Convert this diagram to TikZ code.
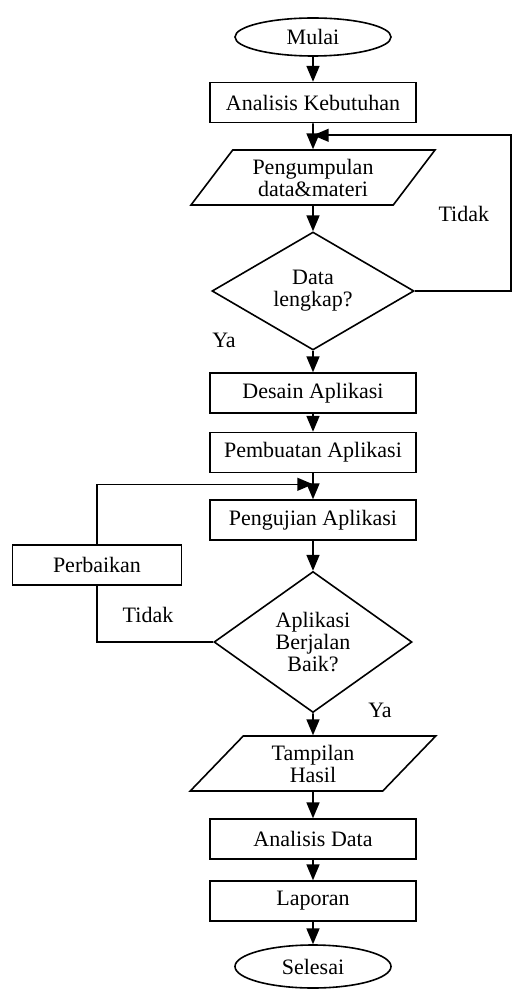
\documentclass[tikz,border=0pt]{standalone}
\usepackage{fontspec}
\setmainfont{Liberation Serif}
\usepackage{tikz}
\usetikzlibrary{shapes,arrows}
\usetikzlibrary{positioning}
\tikzstyle{arrow} = [line width=0.8pt,->,>=triangle 45]
\tikzstyle{line} = [line width=0.8pt]
\tikzstyle{proses} = [
    rectangle, minimum width=103pt, minimum height=20pt, text centered,
    inner sep=1pt, draw=black, line width=0.8pt, font=\fontsize{11}{11}\selectfont]
\tikzstyle{terminal} = [
    ellipse, minimum width=78pt, minimum height=19pt, inner sep=0pt,
    draw=black, line width=0.8pt, font=\fontsize{11}{11}\selectfont]
\tikzstyle{io} = [
    trapezium, trapezium left angle=50, trapezium right angle=130,
    trapezium stretches=true, minimum width=123pt, minimum height=27.5pt,
    inner sep=0pt, align=center, draw=black, line width=0.8pt,
    font=\fontsize{11}{11}\selectfont]
\tikzstyle{keputusan} = [
    diamond, aspect=1.7, minimum width=101pt, minimum height=59pt, inner sep=0pt,
    align=center, draw=black, line width=0.8pt, font=\fontsize{11}{11}\selectfont]
\tikzstyle{ket} = [inner sep=0pt, font=\fontsize{11}{11}\selectfont]

\begin{document}
\begin{tikzpicture}
\useasboundingbox (-156.5pt,18.5pt) rectangle (99.5pt,-476pt);

\node (mulai) [terminal] {Mulai};
\node (kebutuhan) [proses, below of=mulai, node distance=32.75pt] {Analisis Kebutuhan};
\node (kumpul) [io, below of=kebutuhan, node distance=37.5pt] {Pengumpulan\\data\&materi};
\node (lengkap) [keputusan, below of=kumpul, node distance=56.75pt] {Data\\lengkap?};
\node (desain) [proses, below of=lengkap, node distance=51pt] {Desain Aplikasi};
\node (pembuatan) [proses, below of=desain, node distance=29.75pt] {Pembuatan Aplikasi};
\node (pengujian) [proses, below of=pembuatan, node distance=33.75pt] {Pengujian Aplikasi};
\node (baik) [keputusan, below of=pengujian, node distance=61pt,
    minimum width=99pt, minimum height=70.5pt] {Aplikasi\\Berjalan\\Baik?};
\node (perbaikan) [proses, left of=pengujian, node distance=108pt, yshift=-22.5pt,
    minimum width=84.5pt] {Perbaikan};
\node (tampil) [io, below of=baik, node distance=60.75pt] {Tampilan\\Hasil};
\node (analisisdata) [proses, below of=tampil, node distance=37.75pt] {Analisis Data};
\node (laporan) [proses, below of=analisisdata, node distance=31pt] {Laporan};
\node (selesai) [terminal, below of=laporan, node distance=32.75pt,
    minimum height=21.5pt] {Selesai};

\coordinate (join1) at ([yshift=-6pt]kebutuhan.south);
\coordinate (join2) at ([yshift=-5.5pt]pembuatan.south);

\node (tidakA) [ket] at ([xshift=24.5pt, yshift=38.5pt]lengkap.east) {Tidak};
\node (yaA) [ket] at ([xshift=-44.5pt, yshift=5pt]lengkap.south) {Ya};
\node (tidakB) [ket] at ([xshift=25.5pt, yshift=-14.5pt]perbaikan.south) {Tidak};
\node (yaB) [ket] at ([xshift=33.5pt, yshift=1.5pt]baik.south) {Ya};

\draw [arrow] (mulai) -- (kebutuhan);
\draw [arrow] (kebutuhan) -- (kumpul);
\draw [arrow] (kumpul) -- (lengkap);
\draw [arrow] (lengkap) -- (desain);
\draw [arrow] (desain) -- (pembuatan);
\draw [arrow] (pembuatan) -- (pengujian);
\draw [arrow] (pengujian) -- (baik);
\draw [arrow] (baik) -- (tampil);
\draw [arrow] (tampil) -- (analisisdata);
\draw [arrow] (analisisdata) -- (laporan);
\draw [arrow] (laporan) -- (selesai);

\draw [arrow] (lengkap.east) -- ++(48pt,0) |- (join1);
\draw [line] (baik.west) -| (perbaikan.south);
\draw [arrow] (perbaikan.north) |- (join2);
\end{tikzpicture}
\end{document}
